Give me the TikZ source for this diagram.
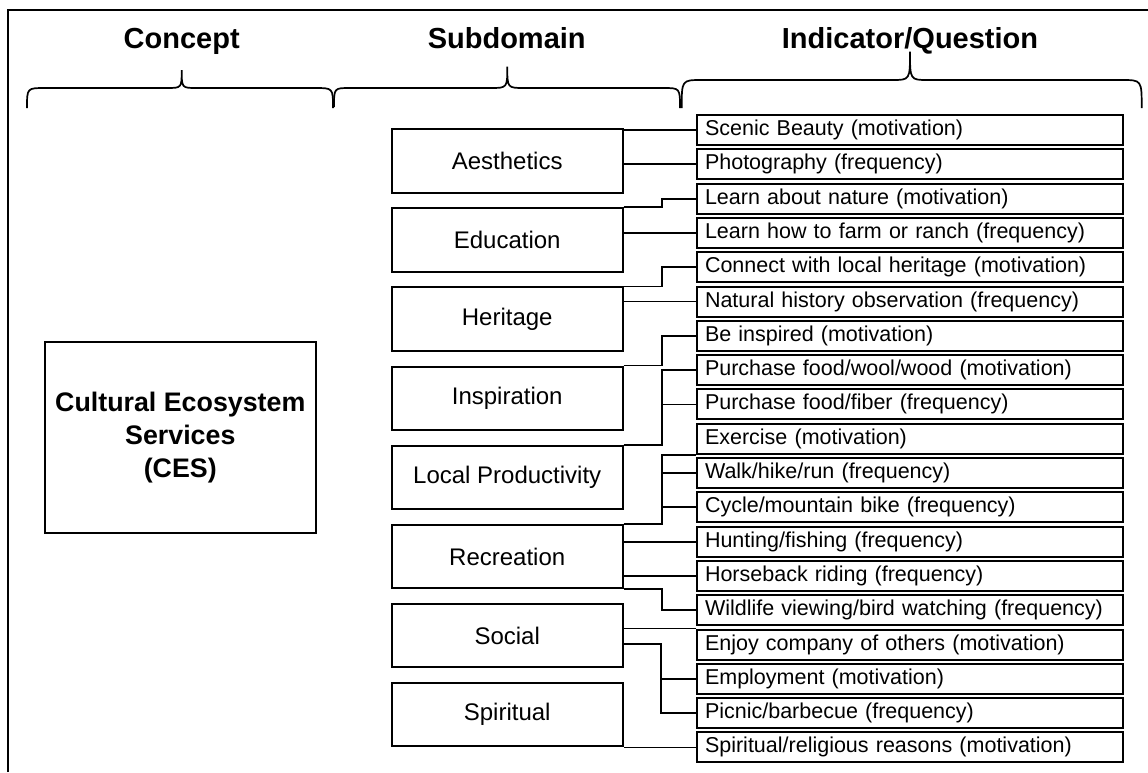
\documentclass[tikz,border=0pt]{standalone}
\usepackage{fontspec}
\setmainfont{Liberation Sans}
\begin{document}
\begin{tikzpicture}[x=1pt,y=-1pt,
  ind/.style={draw, line width=2pt, minimum height=30pt, text width=410pt, inner xsep=8pt, inner ysep=0pt, align=left, font=\fontsize{21.5}{24}\selectfont, anchor=west},
  sub/.style={draw, line width=2pt, minimum width=231pt, minimum height=63.5pt, inner sep=0pt, font=\fontsize{24}{28}\selectfont},
  hdr/.style={font=\bfseries\fontsize{29}{34}\selectfont, anchor=base},
  link/.style={line width=1.8pt},
  brace/.style={line width=1.7pt},
  frame/.style={line width=1.6pt}]
\useasboundingbox (0,0) rectangle (1148,772);

% frame
\draw[frame] (8,772) -- (8,10) -- (583,10);
\draw[line width=2.6pt] (583,10) -- (1148,10);

% headers
\node[hdr] (hc) at (181.7,48) {Concept};
\node[hdr] (hs) at (506.7,48) {Subdomain};
\node[hdr] (hi) at (910,48) {Indicator/Question};

% braces
\draw[brace] (27,108) .. controls (27,88) .. (45,88) -- (166.7,88)
  .. controls (181.7,88) .. (181.7,70) .. controls (181.7,88) .. (196.7,88)
  -- (315,88) .. controls (333,88) .. (333,108);
\draw[brace] (334,107) .. controls (334,88) .. (350,88) -- (490.3,88)
  .. controls (507.3,88) .. (507.3,66.7) .. controls (507.3,88) .. (524.3,88)
  -- (663,88) .. controls (680,88) .. (680,108);
\draw[brace] (681.7,108) .. controls (681.7,80) .. (701.7,80) -- (892,80)
  .. controls (910,80) .. (910,51.7) .. controls (910,80) .. (928,80)
  -- (1121.7,80) .. controls (1141.7,80) .. (1141.7,108);

% concept
\node[draw, line width=2pt, minimum width=270.7pt, minimum height=191.6pt, align=center,
  font=\bfseries\fontsize{26.8}{33}\selectfont] (ces) at (180.3,437.5)
  {Cultural Ecosystem\\Services\\(CES)};

% subdomains
\node[sub] (ae) at (507.2,161.0) {Aesthetics};
\node[sub] (ed) at (507.2,240.1) {Education};
\node[sub] (he) at (507.2,319.2) {Heritage};
\node[sub] (in) at (507.2,398.3) {Inspiration};
\node[sub] (lp) at (507.2,477.4) {Local Productivity};
\node[sub] (re) at (507.2,556.5) {Recreation};
\node[sub] (so) at (507.2,635.6) {Social};
\node[sub] (sp) at (507.2,714.7) {Spiritual};

% indicators
\node[ind] (i1)  at (696,130.0) {Scenic Beauty (motivation)};
\node[ind] (i2)  at (696,164.3) {Photography (frequency)};
\node[ind] (i3)  at (696,198.6) {Learn about nature (motivation)};
\node[ind] (i4)  at (696,232.9) {Learn how to farm or ranch (frequency)};
\node[ind] (i5)  at (696,267.2) {Connect with local heritage (motivation)};
\node[ind] (i6)  at (696,301.5) {Natural history observation (frequency)};
\node[ind] (i7)  at (696,335.8) {Be inspired (motivation)};
\node[ind] (i8)  at (696,370.1) {Purchase food/wool/wood (motivation)};
\node[ind] (i9)  at (696,404.4) {Purchase food/fiber (frequency)};
\node[ind] (i10) at (696,438.7) {Exercise (motivation)};
\node[ind] (i11) at (696,473.0) {Walk/hike/run (frequency)};
\node[ind] (i12) at (696,507.3) {Cycle/mountain bike (frequency)};
\node[ind] (i13) at (696,541.6) {Hunting/fishing (frequency)};
\node[ind] (i14) at (696,575.9) {Horseback riding (frequency)};
\node[ind] (i15) at (696,610.2) {Wildlife viewing/bird watching (frequency)};
\node[ind] (i16) at (696,644.5) {Enjoy company of others (motivation)};
\node[ind] (i17) at (696,678.8) {Employment (motivation)};
\node[ind] (i18) at (696,713.1) {Picnic/barbecue (frequency)};
\node[ind] (i19) at (696,747.4) {Spiritual/religious reasons (motivation)};

% connectors
\draw[link] (i1.west) -- (i1.west -| ae.east);
\draw[link] (i2.west) -- (i2.west -| ae.east);
\draw[link] (ed.north east) -- ++(38.3,0) |- (i3.west);
\draw[link] (i4.west) -- (i4.west -| ed.east);
\draw[link] (he.north east) -- ++(38.3,0) |- (i5.west);
\draw[link] (i6.west) -- (i6.west -| he.east);
\draw[link] (in.north east) -- ++(38.3,0) |- (i7.west);
\path (lp.north east) -- ++(38.3,0) coordinate (lpk);
\draw[link] (lp.north east) -- (lpk) |- (i8.west);
\draw[link] (i9.west) -- (i9.west -| lpk);
\path (re.north east) -- ++(38.3,0) coordinate (rek);
\draw[link] (re.north east) -- (rek) |- (i10.south west);
\draw[link] (i11.west) -- (i11.west -| rek);
\draw[link] (i12.west) -- (i12.west -| rek);
\draw[link] (i13.west) -- (i13.west -| re.east);
\draw[link] (i14.west) -- (i14.west -| re.east);
\draw[link] (re.south east) -- ++(38.3,0) |- (i15.west);
\draw[link] (i16.north west) -- (i16.north west -| so.east);
\coordinate (sok) at (661,644);
\draw[link] (sok -| so.east) -- (sok) |- (i18.west);
\draw[link] (i17.west) -- (i17.west -| sok);
\draw[link] (i19.west) -- (i19.west -| sp.east);
\end{tikzpicture}
\end{document}
